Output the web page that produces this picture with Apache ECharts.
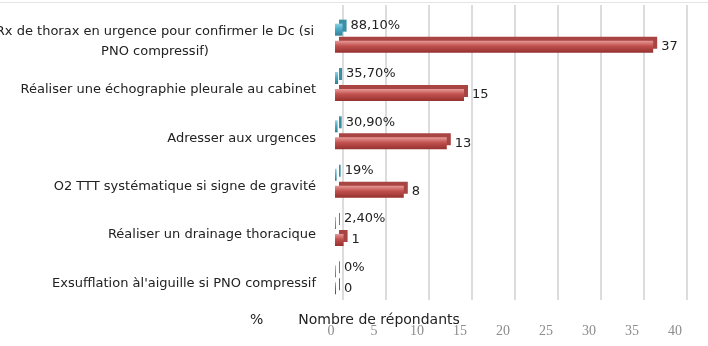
<!DOCTYPE html>
<html>
<head>
<meta charset="utf-8">
<script src="https://cdn.jsdelivr.net/npm/echarts@6/dist/echarts.min.js"></script>
<style>
  html, body { margin: 0; padding: 0; background: #fff; }
  #chart { width: 708px; height: 346px; }
</style>
</head>
<body>
<div id="chart"></div>
<script>
const categories = [
  'Rx de thorax en urgence pour confirmer le Dc (si\nPNO compressif)',
  'Réaliser une échographie pleurale au cabinet',
  'Adresser aux urgences',
  'O2 TTT systématique si signe de gravité',
  'Réaliser un drainage thoracique',
  "Exsufflation àl'aiguille si PNO compressif",
]
const pctValues = [0.881, 0.357, 0.309, 0.19, 0.024, 0]
const pctLabels = ['88,10%', '35,70%', '30,90%', '19%', '2,40%', '0%']
const countValues = [37, 15, 13, 8, 1, 0]

const sans = 'DejaVu Sans'

const chart = echarts.init(document.getElementById('chart'))

const option = {
  animation: false,
  textStyle: {
    fontFamily: sans,
  },
  legend: {
    data: ['%', 'Nombre de répondants'],
    left: 245,
    top: 313,
    padding: 0,
    itemWidth: 0,
    itemHeight: 0,
    itemGap: 30,
    icon: 'none',
    textStyle: {
      fontFamily: sans,
      fontSize: 14,
      color: '#222',
    },
  },
  graphic: [{
    type: 'line',
    shape: { x1: 0, y1: 2.5, x2: 708, y2: 2.5 },
    style: { stroke: '#e4e4e4', lineWidth: 1 },
    silent: true,
  }],
  grid: [{
    left: 335,
    right: 29,
    top: 14,
    bottom: 42,
    outerBoundsMode: 'none',
    containLabel: false,
  }, {
    left: 343,
    right: 21,
    top: 5,
    bottom: 46,
    outerBoundsMode: 'none',
    containLabel: false,
  }],
  xAxis: [{
    type: 'value',
    gridIndex: 0,
    min: 0,
    max: 40,
    interval: 5,
    axisLine: { show: false },
    axisTick: { show: false },
    splitLine: { show: false },
    axisLabel: {
      margin: 20,
      padding: [0, 8, 0, 0],
      fontFamily: 'Liberation Serif',
      fontSize: 14,
      color: '#8c8c8c',
    },
  }, {
    type: 'value',
    gridIndex: 1,
    min: 0,
    max: 40,
    interval: 5,
    axisLine: { show: false },
    axisTick: { show: false },
    axisLabel: { show: false },
    splitLine: {
      show: true,
      lineStyle: { color: '#dcdcdc', width: 2 },
    },
  }],
  yAxis: [{
    type: 'category',
    gridIndex: 0,
    inverse: true,
    data: categories,
    axisLine: { show: false },
    axisTick: { show: false },
    axisLabel: {
      margin: 19,
      padding: [7, 0, 0, 0],
      fontFamily: sans,
      fontSize: 13,
      color: '#222',
      lineHeight: 20,
      formatter: function (v) {
        if (v.indexOf('\n') < 0) return v
        return v.split('\n').map(function (s) { return '{c|' + s + '}' }).join('\n')
      },
      rich: {
        c: {
          width: 322,
          align: 'center',
          fontFamily: sans,
          fontSize: 13,
          color: '#222',
          lineHeight: 20,
        },
      },
    },
  }, {
    type: 'category',
    gridIndex: 1,
    data: categories,
    show: false,
  }],
  series: [{
    name: '%',
    type: 'bar',
    xAxisIndex: 0,
    yAxisIndex: 0,
    barWidth: 12,
    barGap: '42%',
    barMinHeight: 1,
    data: pctValues,
    itemStyle: {
      color: new echarts.graphic.LinearGradient(0, 0, 0, 1, [
        { offset: 0, color: '#8fd3e6' },
        { offset: 0.45, color: '#4bacc6' },
        { offset: 1, color: '#2f7f96' },
      ]),
      shadowColor: '#3a8ea6',
      shadowOffsetX: 4,
      shadowOffsetY: -4,
      shadowBlur: 0,
    },
    label: {
      show: true,
      position: 'right',
      distance: 8,
      offset: [0, -4],
      fontFamily: sans,
      fontSize: 13,
      color: '#222',
      formatter: function (p) { return pctLabels[p.dataIndex] },
    },
  }, {
    name: 'Nombre de répondants',
    type: 'bar',
    xAxisIndex: 0,
    yAxisIndex: 0,
    barWidth: 12,
    barMinHeight: 1,
    data: countValues,
    itemStyle: {
      color: new echarts.graphic.LinearGradient(0, 0, 0, 1, [
        { offset: 0, color: '#e79a98' },
        { offset: 0.45, color: '#c0504d' },
        { offset: 1, color: '#94312f' },
      ]),
      shadowColor: '#a84442',
      shadowOffsetX: 4,
      shadowOffsetY: -4,
      shadowBlur: 0,
    },
    label: {
      show: true,
      position: 'right',
      distance: 8,
      fontFamily: sans,
      fontSize: 13,
      color: '#222',
    },
  }],
}

chart.setOption(option)
</script>
</body>
</html>
